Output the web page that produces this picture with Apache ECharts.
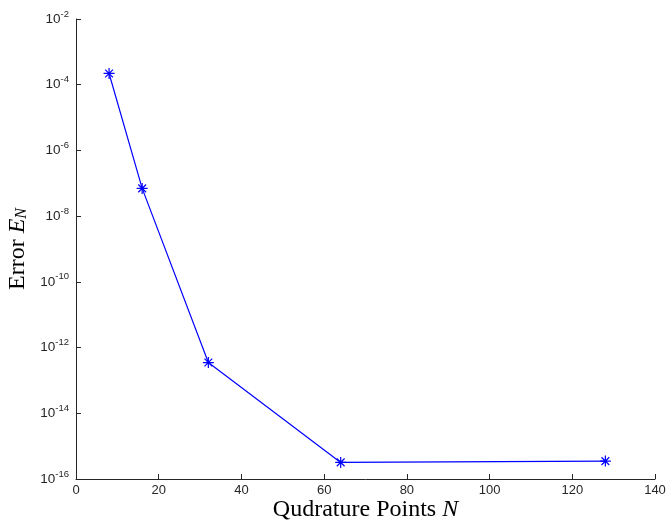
<!DOCTYPE html>
<html>
<head>
<meta charset="utf-8">
<script src="https://cdn.jsdelivr.net/npm/echarts@6/dist/echarts.min.js"></script>
<style>
  * { margin: 0; padding: 0; }
  body { background: #fff; }
</style>
</head>
<body>
<div id="main" style="width:667px;height:520px;"></div>
<script>
  // quadrature points and error
  var pointsN = [8, 16, 32, 64, 128];
  var errorN = [2.2e-4, 7e-8, 3.5e-13, 3.2e-16, 3.5e-16];
  var xTicks = [0, 20, 40, 60, 80, 100, 120, 140];

  var chart = echarts.init(document.getElementById('main'));
  var axisColor = '#262626';
  var asterisk = 'path://M0,-6L0,6M-6,0L6,0M-4.24,-4.24L4.24,4.24M-4.24,4.24L4.24,-4.24';
  var serif = 'Liberation Serif';

  chart.setOption({
    animation: false,
    grid: { left: 76, right: 12, top: 19, bottom: 41, containLabel: false, outerBoundsMode: 'none' },
    xAxis: {
      type: 'value',
      min: xTicks[0],
      max: xTicks[xTicks.length - 1],
      interval: 20,
      name: '{t|Qudrature Points }{i|N}',
      nameLocation: 'middle',
      nameGap: 19,
      nameMoveOverlap: false,
      nameTextStyle: {
        rich: {
          t: { fontFamily: serif, fontSize: 24, color: '#000' },
          i: { fontFamily: serif, fontSize: 24, fontStyle: 'italic', color: '#000' }
        }
      },
      axisLine: { lineStyle: { color: axisColor, width: 1 } },
      axisTick: { inside: true, length: 5, lineStyle: { color: axisColor } },
      axisLabel: { color: axisColor, fontFamily: 'Liberation Sans', fontSize: 13, margin: 5 },
      splitLine: { show: false }
    },
    yAxis: {
      type: 'log',
      logBase: 10,
      min: 1e-16,
      max: 1e-2,
      interval: 2,
      name: '{t|Error }{i|E}{s|N}',
      nameLocation: 'middle',
      nameRotate: 90,
      nameGap: 46,
      nameMoveOverlap: false,
      nameTextStyle: {
        rich: {
          t: { fontFamily: serif, fontSize: 24, color: '#000' },
          i: { fontFamily: serif, fontSize: 24, fontStyle: 'italic', color: '#000' },
          s: { fontFamily: serif, fontSize: 16, fontStyle: 'italic', color: '#000', verticalAlign: 'bottom', padding: [9, 0, 0, 0] }
        }
      },
      axisLine: { show: true, lineStyle: { color: axisColor, width: 1 } },
      axisTick: { inside: true, length: 5, lineStyle: { color: axisColor } },
      axisLabel: {
        margin: 7,
        formatter: function (v) {
          var e = Math.round(Math.log10(v));
          return '{b|10}{s|' + e + '}';
        },
        rich: {
          b: { color: axisColor, fontFamily: 'Liberation Sans', fontSize: 13.5 },
          s: { color: axisColor, fontFamily: 'Liberation Sans', fontSize: 9.5, padding: [0, 0, 10, 0] }
        }
      },
      minorTick: { show: false },
      splitLine: { show: false }
    },
    series: [
      {
        type: 'line',
        data: pointsN.map(function (n, i) { return [n, errorN[i]]; }),
        symbol: asterisk,
        symbolSize: 11,
        lineStyle: { color: '#0000ff', width: 1.2 },
        itemStyle: { color: 'rgba(0,0,0,0)', borderColor: '#0000ff', borderWidth: 1.2 }
      }
    ]
  });
</script>
</body>
</html>
